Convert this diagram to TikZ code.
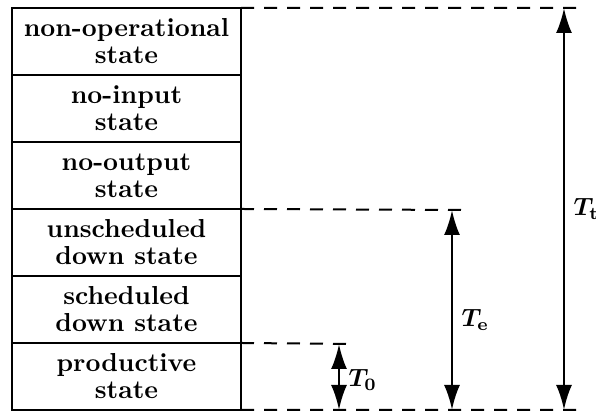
\documentclass[tikz,border=0pt]{standalone}
\usetikzlibrary{arrows.meta}
\begin{document}
\begin{tikzpicture}[x=0.4pt,y=0.4pt,
    state/.style={draw, line width=0.8pt, minimum width=91.6pt, minimum height=26.8pt,
      inner sep=0pt, outer sep=0pt, align=center,
      font={\bfseries\fontsize{10.4}{10.8}\selectfont}},
    level/.style={line width=0.8pt, dash pattern=on 5.2pt off 4pt},
    span/.style={{Latex[length=10pt,width=6.4pt]}-{Latex[length=10pt,width=6.4pt]}, line width=1pt}]
    \useasboundingbox (0,0) rectangle (596,411);
    \foreach \lab/\row in {
      {non-operational\\state}/1,
      {no-input\\state}/2,
      {no-output\\state}/3,
      {unscheduled\\down state}/4,
      {scheduled\\down state}/5,
      {productive\\state}/6}{
      \node[state] (s\row) at (126.5,436.5-67*\row) {\lab};
    }
    \coordinate (topEnd) at (578,403);
    \coordinate (botEnd) at (578,1);
    \coordinate (eEnd) at (463,201);
    \coordinate (oEnd) at (355,67);
    \coordinate (tTop) at (564,403);
    \coordinate (tBot) at (564,1);
    \coordinate (eTop) at (452,201);
    \coordinate (eBot) at (452,1);
    \coordinate (oTop) at (339,67);
    \coordinate (oBot) at (339,1);
    \draw[level] (s1.north east) -- (topEnd);
    \draw[level] (s4.north east) -- (eEnd);
    \draw[level] (s6.north east) -- (oEnd);
    \draw[level] (s6.south east) -- (botEnd);
    \draw[span] (tBot) -- node[right, font=\boldmath] (tLab) {$T_{\mathrm{t}}$} (tTop);
    \draw[span] (eBot) -- node[right, pos=0.45, font=\boldmath] (eLab) {$T_{\mathrm{e}}$} (eTop);
    \draw[span] (oBot) -- node[right, pos=0.45, font=\boldmath] (oLab) {$T_{0}$} (oTop);
  \end{tikzpicture}
\end{document}
